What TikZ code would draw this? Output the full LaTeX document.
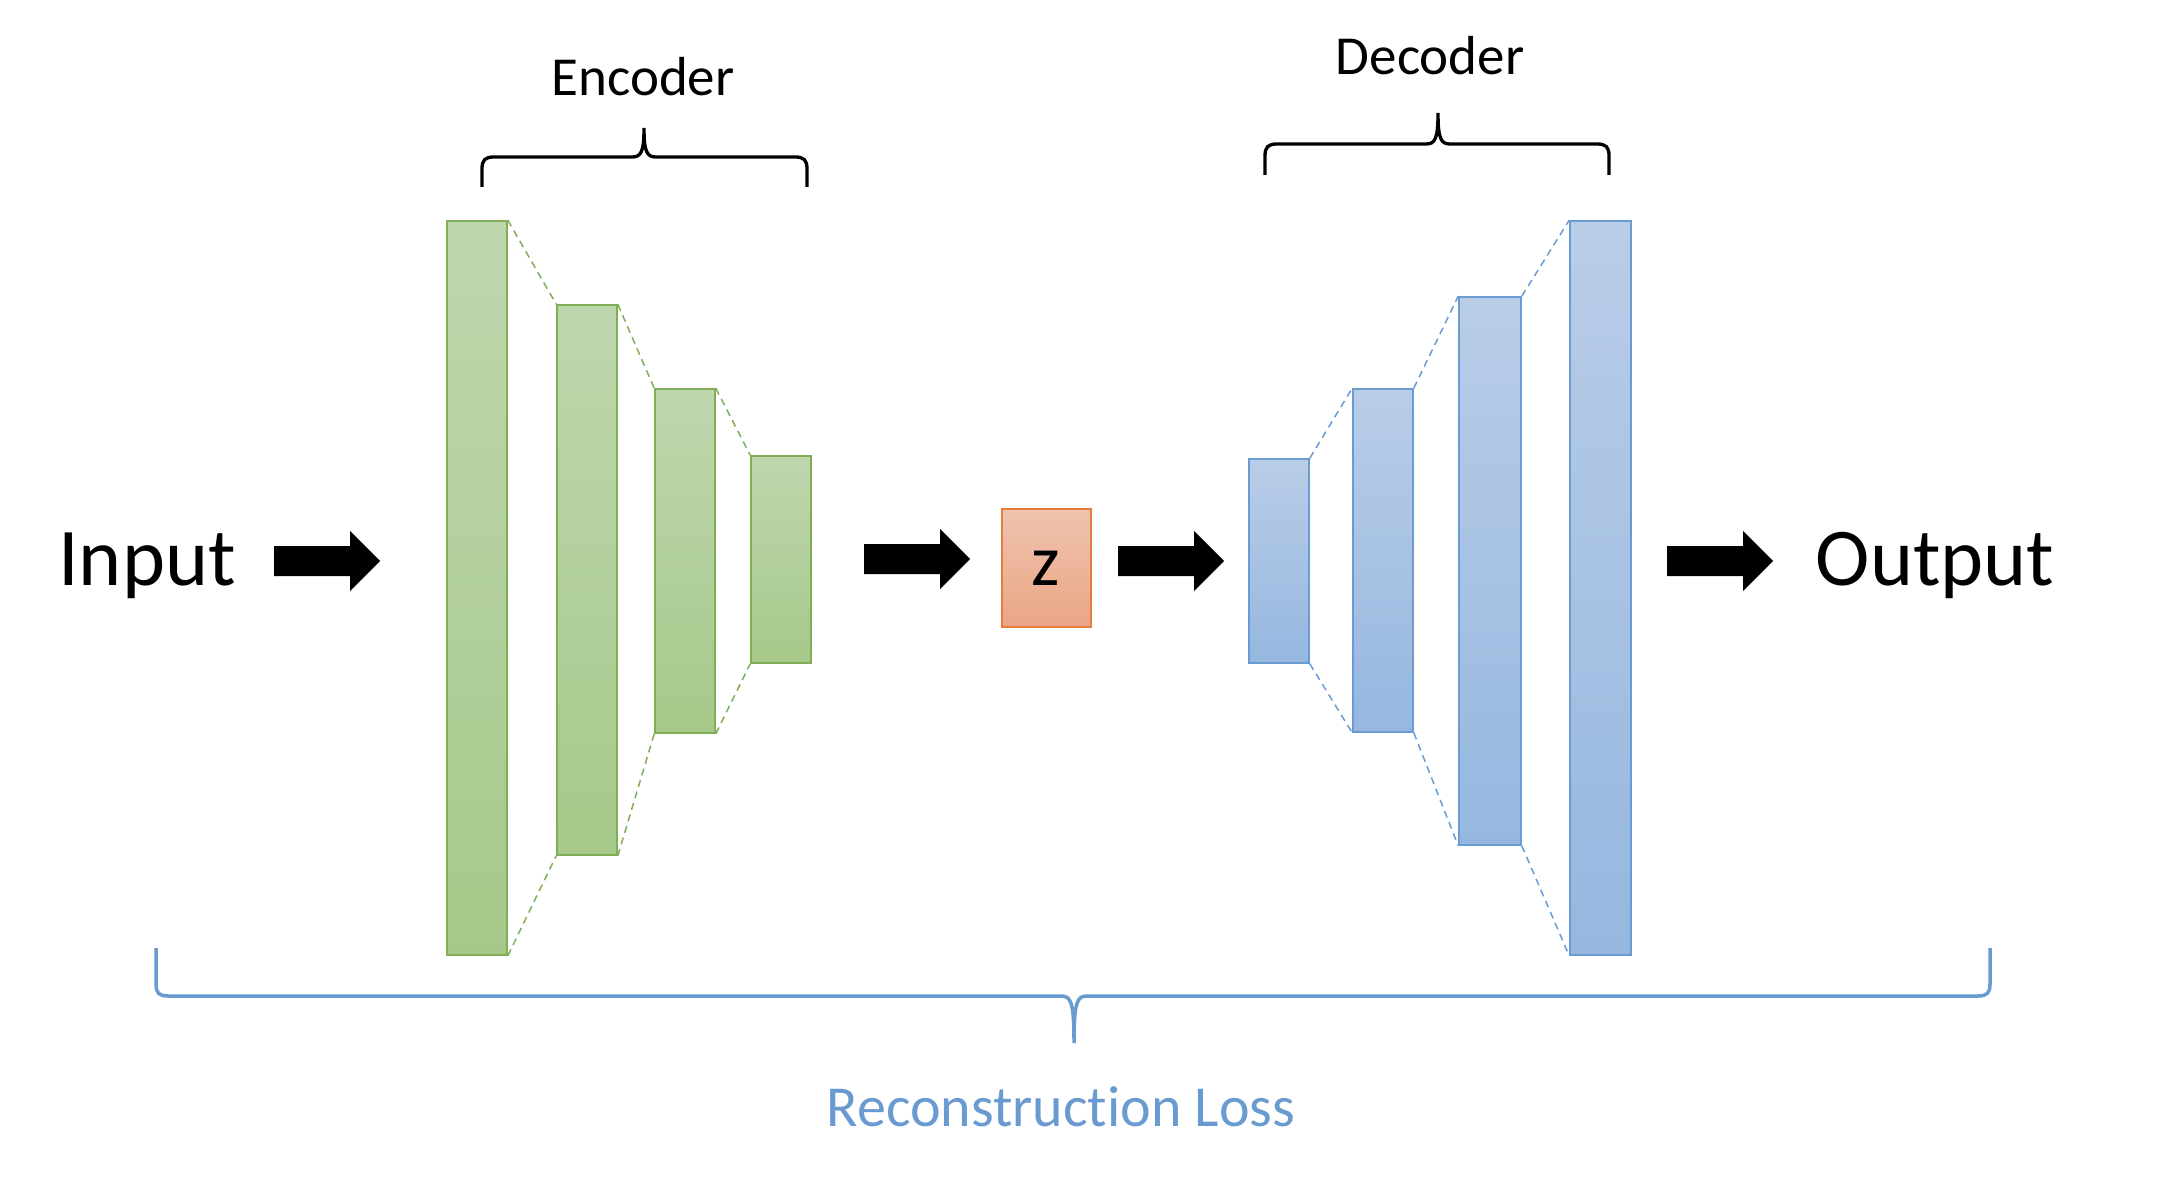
\documentclass[tikz,border=0pt]{standalone}
\usepackage{fontspec}
\setmainfont{Carlito}[Ligatures=NoCommon]
\usetikzlibrary{fit}
\definecolor{gstroke}{HTML}{7FAE57}
\definecolor{gtop}{HTML}{BED6AE}
\definecolor{gbot}{HTML}{A6C98A}
\definecolor{bstroke}{HTML}{6A9BD3}
\definecolor{btop}{HTML}{B9CDE7}
\definecolor{bbot}{HTML}{96B7E0}
\definecolor{ostroke}{HTML}{E57E3C}
\definecolor{otop}{HTML}{EFC3AE}
\definecolor{obot}{HTML}{EAA685}
\definecolor{lossblue}{HTML}{6A9BD0}
\begin{document}
\begin{tikzpicture}[x=0.5pt,y=-0.5pt,
  encbox/.style={draw=gstroke, line width=0.8pt, top color=gtop, bottom color=gbot, inner sep=0pt},
  decbox/.style={draw=bstroke, line width=0.8pt, top color=btop, bottom color=bbot, inner sep=0pt},
  zbox/.style={draw=ostroke, line width=0.8pt, top color=otop, bottom color=obot, inner sep=0pt},
  encdash/.style={draw=gstroke, line width=0.75pt, dash pattern=on 3.5pt off 2.5pt},
  decdash/.style={draw=bstroke, line width=0.75pt, dash pattern=on 3.5pt off 2.5pt},
  blackbrace/.style={draw=black, line width=1.65pt},
  lossbrace/.style={draw=lossblue, line width=1.75pt},
  bigtext/.style={inner sep=0pt, anchor=base, font=\fontsize{41pt}{49pt}\selectfont},
  midtext/.style={inner sep=0pt, anchor=base, font=\fontsize{27.5pt}{33pt}\selectfont},
  blockarrow/.pic={\fill[black] (0,-15) -- (76,-15) -- (76,-30) -- (106,0) -- (76,30) -- (76,15) -- (0,15) -- cycle;}
]
\useasboundingbox (0,0) rectangle (2166,1192);

% labels
\node[bigtext] (input) at (147,585) {Input};
\node[bigtext] (output) at (1935,585) {Output};
\node[midtext] (enclabel) at (643,96) {Encoder};
\node[midtext] (declabel) at (1430,75) {Decoder};
\node[inner sep=0pt, anchor=base, text=lossblue, font=\fontsize{29pt}{35pt}\selectfont] (losslabel) at (1061,1126) {Reconstruction Loss};

% encoder blocks
\node[encbox, fit={(447,221) (507,955)}] (e1) {};
\node[encbox, fit={(557,305) (617,855)}] (e2) {};
\node[encbox, fit={(655,389) (715,733)}] (e3) {};
\node[encbox, fit={(751,456) (811,663)}] (e4) {};
\draw[encdash] (e1.north east) -- (e2.north west);
\draw[encdash] (e1.south east) -- (e2.south west);
\draw[encdash] (e2.north east) -- (e3.north west);
\draw[encdash] (e2.south east) -- (e3.south west);
\draw[encdash] (e3.north east) -- (e4.north west);
\draw[encdash] (e3.south east) -- (e4.south west);

% latent
\node[zbox, fit={(1002,509) (1091,627)}] (z) {};
\node[inner sep=0pt, anchor=base, font=\fontsize{36pt}{43pt}\selectfont] (zlabel) at (1046,585) {z};

% decoder blocks
\node[decbox, fit={(1249,459) (1309,663)}] (d1) {};
\node[decbox, fit={(1353,389) (1413,732)}] (d2) {};
\node[decbox, fit={(1459,297) (1521,845)}] (d3) {};
\node[decbox, fit={(1570,221) (1631,955)}] (d4) {};
\draw[decdash] (d1.north east) -- (d2.north west);
\draw[decdash] (d1.south east) -- (d2.south west);
\draw[decdash] (d2.north east) -- (d3.north west);
\draw[decdash] (d2.south east) -- (d3.south west);
\draw[decdash] (d3.north east) -- (d4.north west);
\draw[decdash] (d3.south east) -- (d4.south west);

% block arrows
\pic at (274,561) {blockarrow};
\pic at (864,559) {blockarrow};
\pic at (1118,561) {blockarrow};
\pic at (1667,561) {blockarrow};

% encoder brace
\draw[blackbrace] (482,187) -- (482,169) .. controls (482,160) and (485,157) .. (494,157)
  -- (632,157) .. controls (641,157) and (644,152) .. (644,128)
  .. controls (644,152) and (647,157) .. (656,157)
  -- (795,157) .. controls (804,157) and (807,160) .. (807,169) -- (807,187);
% decoder brace
\draw[blackbrace] (1265,175) -- (1265,156) .. controls (1265,147) and (1268,144) .. (1277,144)
  -- (1426,144) .. controls (1435,144) and (1438,139) .. (1438,113)
  .. controls (1438,139) and (1441,144) .. (1450,144)
  -- (1597,144) .. controls (1606,144) and (1609,147) .. (1609,156) -- (1609,175);
% reconstruction loss brace
\draw[lossbrace] (156,948) -- (156,984) .. controls (156,993) and (159,996) .. (168,996)
  -- (1061,996) .. controls (1071,996) and (1074,1002) .. (1074,1043)
  .. controls (1074,1002) and (1077,996) .. (1087,996)
  -- (1978,996) .. controls (1987,996) and (1990,993) .. (1990,984) -- (1990,948);
\end{tikzpicture}
\end{document}
